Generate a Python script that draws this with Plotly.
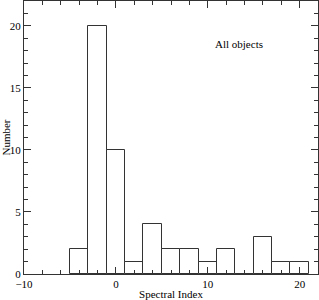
import plotly.graph_objects as go

bin_left = [-5, -3, -1, 1, 3, 5, 7, 9, 11, 13, 15, 17, 19]
counts = [2, 20, 10, 1, 4, 2, 2, 1, 2, 0, 3, 1, 1]
bin_width = 2
centers = [b + bin_width / 2 for b in bin_left]

fig = go.Figure()
fig.add_trace(go.Bar(
    x=centers, y=counts, width=[bin_width] * len(counts),
    marker=dict(color="white", line=dict(color="#333333", width=1)),
))

fam = "Liberation Serif, Times New Roman, serif"
font = dict(family=fam, size=11, color="black")
fig.update_layout(
    width=319, height=300,
    margin=dict(l=24, r=1, t=1, b=26),
    paper_bgcolor="white", plot_bgcolor="white",
    showlegend=False, font=font, bargap=0,
    annotations=[dict(x=13.4, y=18.5, text="All objects", showarrow=False,
                      xref="x", yref="y", font=dict(size=11, family=fam))],
)
fig.update_xaxes(
    range=[-10, 22], tickmode="linear", tick0=-10, dtick=10,
    ticks="inside", ticklen=7, tickcolor="#333333", showgrid=False, zeroline=False,
    showline=True, linecolor="#333333", linewidth=1, mirror="allticks",
    minor=dict(ticks="inside", dtick=2, ticklen=4, tickcolor="#333333", showgrid=False),
    title=dict(text="Spectral Index", font=dict(size=11), standoff=0),
    tickfont=dict(size=11), automargin=False,
)
fig.update_yaxes(
    range=[0, 22], tickmode="linear", tick0=0, dtick=5,
    ticks="inside", ticklen=7, tickcolor="#333333", showgrid=False, zeroline=False,
    showline=True, linecolor="#333333", linewidth=1, mirror="allticks",
    minor=dict(ticks="inside", dtick=1, ticklen=4, tickcolor="#333333", showgrid=False),
    title=dict(text="Number", font=dict(size=11), standoff=0),
    tickfont=dict(size=11), automargin=False, ticklabelstandoff=0,
)
fig.write_html("out.html", config={"displayModeBar": False},
               post_script="document.body.style.margin='0';")
